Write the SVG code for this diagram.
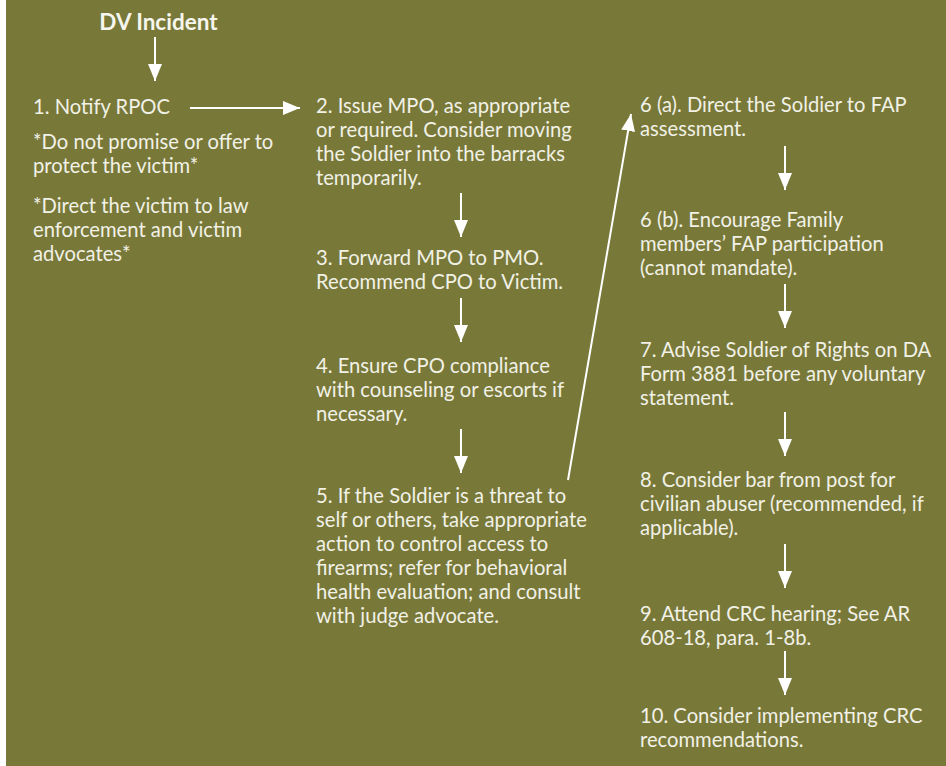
<svg xmlns="http://www.w3.org/2000/svg" width="946" height="766" viewBox="0 0 946 766">
  <style>
    .t { font-family: Lato, "Open Sans", sans-serif; font-size: 20.2px; fill: #f1f1e6; }
    .title { font-family: Lato, "Open Sans", sans-serif; font-size: 22.5px; font-weight: bold; fill: #f6f6ee; }
    .c { stroke: #ffffff; stroke-width: 2; fill: none; marker-end: url(#head); }
  </style>
  <defs>
    <marker id="head" viewBox="0 0 17 14" refX="17" refY="7" markerWidth="17" markerHeight="14" markerUnits="userSpaceOnUse" orient="auto">
      <path d="M0,0 L17,7 L0,14 Z" fill="#ffffff"/>
    </marker>
  </defs>

  <!-- page background -->
  <rect x="0" y="0" width="946" height="766" fill="#ffffff"/>
  <rect x="6" y="0" width="940" height="766" fill="#787839"/>

  <!-- connectors -->
  <g id="connectors">
    <line class="c" x1="155" y1="37" x2="155" y2="81"/>
    <line class="c" x1="190" y1="108" x2="300" y2="108"/>
    <line class="c" x1="461" y1="193" x2="461" y2="237"/>
    <line class="c" x1="461" y1="298" x2="461" y2="342"/>
    <line class="c" x1="461" y1="429" x2="461" y2="473"/>
    <line class="c" x1="568" y1="480" x2="631" y2="114"/>
    <line class="c" x1="785" y1="146" x2="785" y2="190"/>
    <line class="c" x1="785" y1="284" x2="785" y2="328"/>
    <line class="c" x1="785" y1="412" x2="785" y2="456"/>
    <line class="c" x1="785" y1="544" x2="785" y2="588"/>
    <line class="c" x1="785" y1="651" x2="785" y2="695"/>
  </g>

  <g id="start">
    <text class="title" x="158.5" y="30" text-anchor="middle">DV Incident</text>
  </g>

  <g id="step1">
    <text class="t" x="33" y="114">1. Notify RPOC</text>
    <text class="t" x="33" y="149">*Do not promise or offer to</text>
    <text class="t" x="33" y="173">protect the victim*</text>
    <text class="t" x="33" y="213">*Direct the victim to law</text>
    <text class="t" x="33" y="237">enforcement and victim</text>
    <text class="t" x="33" y="261">advocates*</text>
  </g>

  <g id="step2">
    <text class="t" x="316" y="113">2. Issue MPO, as appropriate</text>
    <text class="t" x="316" y="137">or required. Consider moving</text>
    <text class="t" x="316" y="161">the Soldier into the barracks</text>
    <text class="t" x="316" y="185">temporarily.</text>
  </g>

  <g id="step3">
    <text class="t" x="316" y="265">3. Forward MPO to PMO.</text>
    <text class="t" x="316" y="289">Recommend CPO to Victim.</text>
  </g>

  <g id="step4">
    <text class="t" x="316" y="373">4. Ensure CPO compliance</text>
    <text class="t" x="316" y="397">with counseling or escorts if</text>
    <text class="t" x="316" y="421">necessary.</text>
  </g>

  <g id="step5">
    <text class="t" x="316" y="503">5. If the Soldier is a threat to</text>
    <text class="t" x="316" y="527">self or others, take appropriate</text>
    <text class="t" x="316" y="551">action to control access to</text>
    <text class="t" x="316" y="575">firearms; refer for behavioral</text>
    <text class="t" x="316" y="599">health evaluation; and consult</text>
    <text class="t" x="316" y="623">with judge advocate.</text>
  </g>

  <g id="step6a">
    <text class="t" x="640" y="112">6 (a). Direct the Soldier to FAP</text>
    <text class="t" x="640" y="136">assessment.</text>
  </g>

  <g id="step6b">
    <text class="t" x="640" y="227">6 (b). Encourage Family</text>
    <text class="t" x="640" y="251">members’ FAP participation</text>
    <text class="t" x="640" y="275">(cannot mandate).</text>
  </g>

  <g id="step7">
    <text class="t" x="640" y="357">7. Advise Soldier of Rights on DA</text>
    <text class="t" x="640" y="381">Form 3881 before any voluntary</text>
    <text class="t" x="640" y="405">statement.</text>
  </g>

  <g id="step8">
    <text class="t" x="640" y="487">8. Consider bar from post for</text>
    <text class="t" x="640" y="511">civilian abuser (recommended, if</text>
    <text class="t" x="640" y="535">applicable).</text>
  </g>

  <g id="step9">
    <text class="t" x="640" y="621">9. Attend CRC hearing; See AR</text>
    <text class="t" x="640" y="645">608-18, para. 1-8b.</text>
  </g>

  <g id="step10">
    <text class="t" x="640" y="723">10. Consider implementing CRC</text>
    <text class="t" x="640" y="747">recommendations.</text>
  </g>
</svg>
